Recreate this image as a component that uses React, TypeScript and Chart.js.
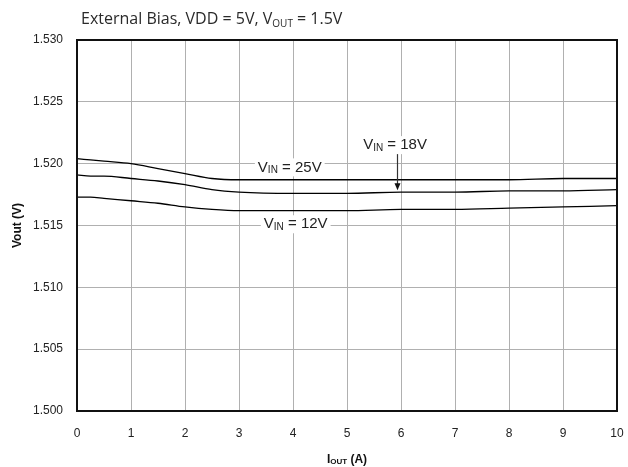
import React, { useEffect, useRef } from "react";
import { Chart, registerables } from "chart.js";

Chart.register(...registerables);

// Output current (A)
const iout = [0, 0.25, 0.5, 1, 1.5, 2, 2.5, 3, 4, 5, 6, 7, 8, 9, 10];
// Output voltage (V) for each input voltage
const vin25 = [1.5204, 1.5203, 1.5202, 1.52, 1.5196, 1.5192, 1.5188, 1.5187, 1.5187, 1.5187, 1.5187, 1.5187, 1.5187, 1.5188, 1.5188];
const vin18 = [1.5191, 1.519, 1.519, 1.5188, 1.5186, 1.5183, 1.5179, 1.5177, 1.5176, 1.5176, 1.5177, 1.5177, 1.5178, 1.5178, 1.5179];
const vin12 = [1.5173, 1.5173, 1.5172, 1.517, 1.5168, 1.5165, 1.5163, 1.5162, 1.5162, 1.5162, 1.5163, 1.5163, 1.5164, 1.5165, 1.5166];

const xTicks = [0, 1, 2, 3, 4, 5, 6, 7, 8, 9, 10];
const yTicks = [1.5, 1.505, 1.51, 1.515, 1.52, 1.525, 1.53];

// Curve annotations: [main, subscript, rest, x, y]
const curveLabels: [string, string, string, number, number][] = [
  ["V", "IN", " = 25V", 3.94, 1.5197],
  ["V", "IN", " = 12V", 4.05, 1.5151],
  ["V", "IN", " = 18V", 5.89, 1.5215],
];
const arrowX = 5.93;

const SANS = "'Liberation Sans', Arial, sans-serif";

function drawSubText(
  ctx: CanvasRenderingContext2D,
  parts: { t: string; size: number; bold?: boolean; dy: number; family: string }[],
  cx: number,
  cy: number,
  color: string,
  bg: boolean
) {
  const widths = parts.map((p) => {
    ctx.font = `${p.bold ? "bold " : ""}${p.size}px ${p.family}`;
    return ctx.measureText(p.t).width;
  });
  const total = widths.reduce((a, b) => a + b, 0);
  let x = cx - total / 2;
  if (bg) {
    ctx.fillStyle = "#fff";
    ctx.fillRect(x - 3, cy - 9, total + 6, 18);
  }
  ctx.fillStyle = color;
  ctx.textBaseline = "middle";
  ctx.textAlign = "left";
  parts.forEach((p, i) => {
    ctx.font = `${p.bold ? "bold " : ""}${p.size}px ${p.family}`;
    ctx.fillText(p.t, x, cy + p.dy);
    x += widths[i];
  });
}

const decorations = {
  id: "decorations",
  afterDraw(chart: Chart) {
    const { ctx, chartArea } = chart;
    const xs = chart.scales.x;
    const ys = chart.scales.y;
    ctx.save();

    // Plot frame
    ctx.strokeStyle = "#111";
    ctx.lineWidth = 2;
    ctx.strokeRect(chartArea.left, chartArea.top, chartArea.right - chartArea.left, chartArea.bottom - chartArea.top);

    // Curve labels
    curveLabels.forEach(([m, s, r, x, y]) => {
      drawSubText(
        ctx,
        [
          { t: m, size: 15, dy: 0, family: SANS },
          { t: s, size: 10, dy: 3, family: SANS },
          { t: r, size: 15, dy: 0, family: SANS },
        ],
        xs.getPixelForValue(x),
        ys.getPixelForValue(y),
        "#222",
        true
      );
    });

    // Arrow from 18V label to its curve
    const ax = Math.round(xs.getPixelForValue(arrowX)) + 0.5;
    const y0 = ys.getPixelForValue(1.5215) + 9;
    let yv = vin18[vin18.length - 1];
    for (let i = 0; i < iout.length - 1; i++) {
      if (arrowX >= iout[i] && arrowX <= iout[i + 1]) {
        const f = (arrowX - iout[i]) / (iout[i + 1] - iout[i]);
        yv = vin18[i] + f * (vin18[i + 1] - vin18[i]);
      }
    }
    const tip = ys.getPixelForValue(yv) - 2;
    ctx.strokeStyle = "#333";
    ctx.lineWidth = 1.2;
    ctx.beginPath();
    ctx.moveTo(ax, y0);
    ctx.lineTo(ax, tip - 6);
    ctx.stroke();
    ctx.fillStyle = "#111";
    ctx.beginPath();
    ctx.moveTo(ax - 3, tip - 7);
    ctx.lineTo(ax + 3, tip - 7);
    ctx.lineTo(ax, tip);
    ctx.closePath();
    ctx.fill();

    // Title
    ctx.fillStyle = "#2a2a2a";
    const TF = "'Open Sans', 'Noto Sans', sans-serif";
    ctx.font = `16px ${TF}`;
    const t1 = "External Bias, VDD = 5V, V";
    const w1 = ctx.measureText(t1).width;
    ctx.textBaseline = "alphabetic";
    ctx.textAlign = "left";
    const tx = 81;
    const ty = 24;
    ctx.fillText(t1, tx, ty);
    ctx.font = `10px ${TF}`;
    const w2 = ctx.measureText("OUT").width;
    ctx.fillText("OUT", tx + w1, ty + 3);
    ctx.font = `16px ${TF}`;
    ctx.fillText(" = 1.5V", tx + w1 + w2, ty);

    // X axis title
    drawSubText(
      ctx,
      [
        { t: "I", size: 12, bold: true, dy: 0, family: SANS },
        { t: "OUT", size: 8, bold: true, dy: 2, family: SANS },
        { t: " (A)", size: 12, bold: true, dy: 0, family: SANS },
      ],
      (chartArea.left + chartArea.right) / 2,
      460,
      "#111",
      false
    );

    // Y axis title
    ctx.fillStyle = "#111";
    ctx.translate(18, (chartArea.top + chartArea.bottom) / 2);
    ctx.rotate(-Math.PI / 2);
    ctx.font = `bold 12px ${SANS}`;
    ctx.textAlign = "center";
    ctx.textBaseline = "middle";
    ctx.fillText("Vout (V)", 0, 0);

    ctx.restore();
  },
};

export default function App() {
  const ref = useRef<HTMLCanvasElement | null>(null);

  useEffect(() => {
    if (!ref.current) return;
    const mk = (vals: number[]) => iout.map((x, i) => ({ x, y: vals[i] }));
    const ds = (label: string, vals: number[]) => ({
      label,
      data: mk(vals),
      borderColor: "#000",
      borderWidth: 1.3,
      pointRadius: 0,
      tension: 0.3,
      cubicInterpolationMode: "monotone" as const,
      fill: false,
    });
    const chart = new Chart(ref.current, {
      type: "line",
      data: {
        datasets: [ds("VIN = 25V", vin25), ds("VIN = 18V", vin18), ds("VIN = 12V", vin12)],
      },
      options: {
        animation: false,
        responsive: false,
        maintainAspectRatio: false,
        layout: { padding: { top: 40, right: 11, left: 0, bottom: 0 } },
        plugins: { legend: { display: false }, tooltip: { enabled: false }, title: { display: false } },
        scales: {
          x: {
            type: "linear",
            min: 0,
            max: 10,
            afterFit: (s: any) => {
              s.height = 56;
            },
            afterBuildTicks: (s: any) => {
              s.ticks = xTicks.map((v) => ({ value: v }));
            },
            grid: { color: "#b0b0b0", lineWidth: 1, drawTicks: true, tickLength: 15, tickColor: "rgba(0,0,0,0)" },
            border: { display: false },
            ticks: { font: { family: SANS, size: 12 }, color: "#222", padding: 0, maxRotation: 0 },
          },
          y: {
            type: "linear",
            min: 1.5,
            max: 1.53,
            afterFit: (s: any) => {
              s.width = 77;
            },
            afterBuildTicks: (s: any) => {
              s.ticks = yTicks.map((v) => ({ value: v }));
            },
            grid: { color: "#b0b0b0", lineWidth: 1, drawTicks: true, tickLength: 14, tickColor: "rgba(0,0,0,0)" },
            border: { display: false },
            ticks: {
              font: { family: SANS, size: 12 },
              color: "#222",
              padding: 0,
              callback: (v: any) => Number(v).toFixed(3),
            },
          },
        },
      },
      plugins: [decorations],
    });
    return () => chart.destroy();
  }, []);

  return (
    <div style={{ position: "absolute", left: 0, top: 0, width: 628, height: 467, background: "#fff" }}>
      <canvas ref={ref} width={628} height={467} style={{ width: 628, height: 467, display: "block" }} />
    </div>
  );
}
